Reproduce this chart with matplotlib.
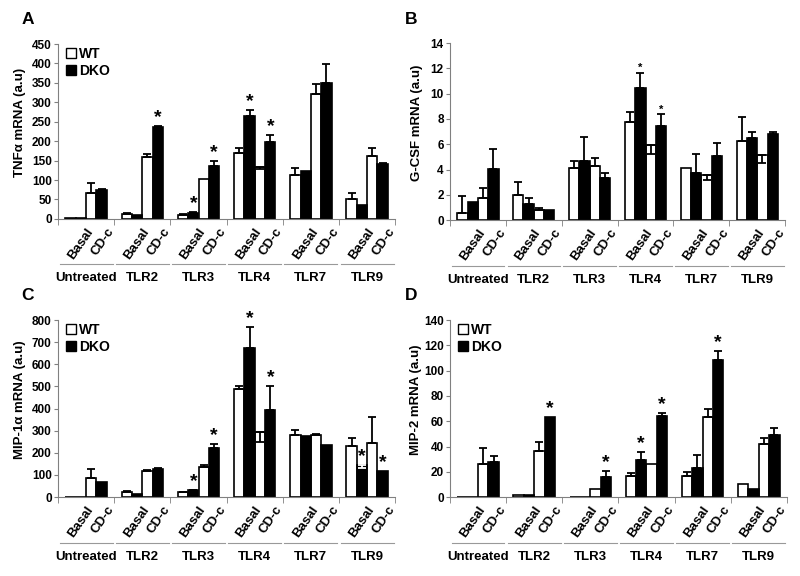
import numpy as np
import matplotlib.pyplot as plt
from matplotlib.patches import Patch
from matplotlib.transforms import blended_transform_factory, ScaledTranslation

plt.rcParams['font.family'] = ['Liberation Sans', 'DejaVu Sans']
plt.rcParams['font.weight'] = 'bold'

groups = ["Untreated", "TLR2", "TLR3", "TLR4", "TLR7", "TLR9"]
conditions = ["Basal", "CD-c"]

# values ordered Untreated Basal, Untreated CD-c, TLR2 Basal, TLR2 CD-c, ...
# a negative error means the bar's error is drawn downwards
tnf_wt = [1, 67, 13, 159, 10, 102, 169, 133, 113, 322, 50, 163]
tnf_wt_err = [0, 25, 1, 7, 2, 0, 14, -5, 17, 25, 17, 20]
tnf_dko = [1, 75, 11, 236, 16, 137, 266, 199, 122, 350, 35, 140]
tnf_dko_err = [0, 2, 0, 3, 1, 11, 13, 17, 0, 48, 0, 5]
tnf_stars = [3, 4, 5, 6, 7]

gcsf_wt = [0.53, 1.76, 1.95, 0.77, 4.14, 4.3, 7.73, 5.93, 4.14, 3.6, 6.25, 5.14]
gcsf_wt_err = [1.37, 0.74, 1.08, 0.15, 0.53, 0.63, 0.79, -0.73, 0, -0.4, 1.92, -0.64]
gcsf_dko = [1.45, 4.03, 1.29, 0.82, 4.67, 3.3, 10.47, 7.43, 3.69, 5.06, 6.51, 6.78]
gcsf_dko_err = [0, 1.56, 0.42, 0, 1.92, 0.44, 1.18, 0.93, 1.53, 1.06, 0.48, 0.21]
gcsf_stars = [6, 7]

mip1_wt = [2, 85, 24, 119, 21, 134, 487, 295, 280, 281, 230, 243]
mip1_wt_err = [0, 40, 2, 5, 2, 12, 16, -45, 23, 3, 38, 117]
mip1_dko = [2, 66, 13, 126, 30, 221, 675, 393, 277, 235, 145, 117]
mip1_dko_err = [0, 0, 0, 4, 2, 20, 92, 109, 0, 0, -15, 0]
mip1_stars = [4, 5, 6, 7, 10, 11]

mip2_wt = [0.3, 25.8, 1.5, 36.1, 0.2, 6.2, 16.3, 26.3, 17, 63, 10.5, 42]
mip2_wt_err = [0, 13, 0, 7.2, 0, 0, 2.9, 0, 2.5, 7, 0, 5]
mip2_dko = [0.3, 27.4, 1.5, 63.5, 0.2, 16, 29, 64, 23, 108.5, 6.5, 49]
mip2_dko_err = [0, 5.3, 0, 0, 0, 4.3, 6.6, 2.5, 10.5, 7, 0, 6]
mip2_stars = [3, 5, 6, 7, 9]

fig = plt.figure(figsize=(8, 5.76), dpi=100)

axis_grey = '#808080'
bw = 0.185
start = 0.13


def draw_panel(rect, letter, ylabel, ymax, ystep, wt, wt_err, dko, dko_err,
               stars, star_size, legend, label_x):
    ax = fig.add_axes(rect)
    n = len(wt)
    idx = np.arange(n)
    g = idx // 2
    c = idx % 2
    x_wt = g + start + (2 * c + 0.5) * bw
    x_dko = g + start + (2 * c + 1.5) * bw

    ax.bar(x_wt, wt, width=bw, color='white', edgecolor='black', linewidth=1.2, zorder=2)
    ax.bar(x_dko, dko, width=bw, color='black', edgecolor='black', linewidth=1.2, zorder=2)

    for xs, ys, es, down_col in [(x_wt, wt, wt_err, 'black'), (x_dko, dko, dko_err, 'white')]:
        es = np.asarray(es, dtype=float)
        ys = np.asarray(ys, dtype=float)
        up = es > 0
        dn = es < 0
        ax.errorbar(xs[up], ys[up], yerr=[np.zeros(up.sum()), es[up]], fmt='none',
                    ecolor='black', elinewidth=1.3, capsize=3, capthick=1.3, zorder=3)
        if dn.any():
            ax.errorbar(xs[dn], ys[dn], yerr=[-es[dn], np.zeros(dn.sum())], fmt='none',
                        ecolor=down_col, elinewidth=1.3, capsize=3, capthick=1.3, zorder=3)

    for i in stars:
        top = dko[i] + max(dko_err[i], 0)
        ax.annotate('*', (x_dko[i], top), xytext=(0, 0), textcoords='offset points',
                    ha='center', va='bottom', fontsize=star_size, fontweight='bold')

    ax.set_xlim(0, len(groups))
    ax.set_ylim(0, ymax)
    ax.set_yticks(np.arange(0, ymax + ystep / 2, ystep))
    ax.tick_params(axis='y', labelsize=8.5, length=3, color=axis_grey, pad=1.5)
    for s in ['top', 'right']:
        ax.spines[s].set_visible(False)
    for s in ['left', 'bottom']:
        ax.spines[s].set_color(axis_grey)

    pair_x = np.arange(len(groups) * 2) // 2 + start + ((np.arange(len(groups) * 2) % 2) * 2 + 1) * bw
    ax.set_xticks(np.arange(0, len(groups) + 1), minor=True)
    ax.tick_params(axis='x', which='minor', length=4, color=axis_grey)
    ax.set_xticks(pair_x)
    ax.set_xticklabels(conditions * len(groups), rotation=55, ha='right',
                       rotation_mode='anchor', fontsize=9.5)
    ax.tick_params(axis='x', which='major', length=0, pad=5)
    shift = ScaledTranslation(0.1, 0, fig.dpi_scale_trans)
    for lab in ax.get_xticklabels():
        lab.set_transform(lab.get_transform() + shift)

    trans = blended_transform_factory(ax.transData, ax.transAxes)
    for k, name in enumerate(groups):
        ax.plot([k + 0.03, k + 0.97], [-0.26, -0.26], transform=trans, clip_on=False,
                color='#999999', lw=0.8)
        ax.text(k + 0.5, -0.34, name, transform=trans, ha='center', va='center',
                fontsize=9.5, fontweight='bold')

    ax.set_ylabel(ylabel, fontsize=9.5, fontweight='bold')
    ax.yaxis.set_label_coords(label_x, 0.55)

    if legend:
        handles = [Patch(facecolor='white', edgecolor='black', label='WT'),
                   Patch(facecolor='black', edgecolor='black', label='DKO')]
        ax.legend(handles=handles, loc='upper left', bbox_to_anchor=(0.0, 1.03),
                  frameon=False, fontsize=10, handlelength=0.7, handleheight=0.7,
                  handletextpad=0.2, labelspacing=0.2, borderaxespad=0.2)

    fig.text(rect[0] - 0.038 if letter in 'AC' else rect[0] - 0.048,
             rect[1] + rect[3] + 0.042, letter, fontsize=12.5, fontweight='bold',
             ha='center', va='center')
    return ax


draw_panel([0.0725, 0.620, 0.4215, 0.3036], 'A', 'TNF\u03b1 mRNA (a.u)', 450, 50,
           tnf_wt, tnf_wt_err, tnf_dko, tnf_dko_err, tnf_stars, 14, True, -0.095)
draw_panel([0.5625, 0.618, 0.419, 0.307], 'B', 'G-CSF mRNA (a.u)', 14, 2,
           gcsf_wt, gcsf_wt_err, gcsf_dko, gcsf_dko_err, gcsf_stars, 8, False, -0.08)
draw_panel([0.0725, 0.137, 0.4215, 0.3073], 'C', 'MIP-1\u03b1 mRNA (a.u)', 800, 100,
           mip1_wt, mip1_wt_err, mip1_dko, mip1_dko_err, mip1_stars, 14, True, -0.095)
draw_panel([0.5625, 0.137, 0.421, 0.3073], 'D', 'MIP-2 mRNA (a.u)', 140, 20,
           mip2_wt, mip2_wt_err, mip2_dko, mip2_dko_err, mip2_stars, 14, True, -0.082)

fig.savefig('out.png', dpi=100)
